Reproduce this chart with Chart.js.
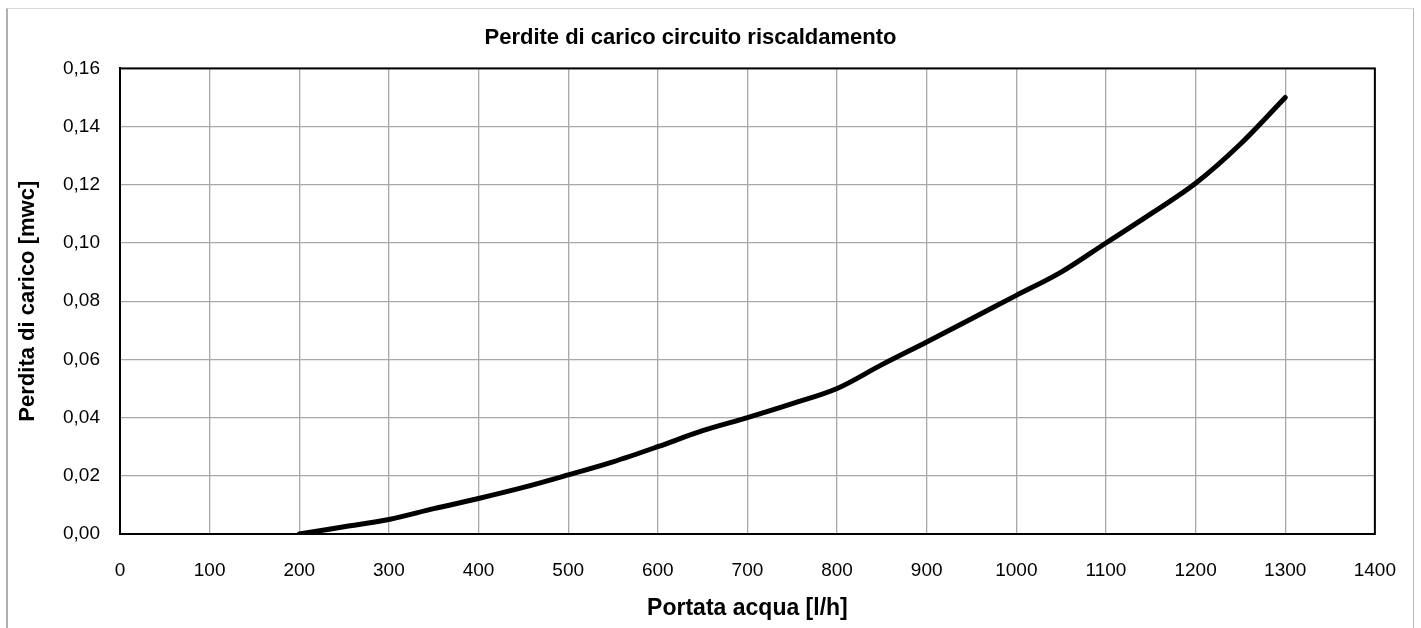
<!DOCTYPE html>
<html>
<head>
<meta charset="utf-8">
<script src="https://cdn.jsdelivr.net/npm/chart.js@4.4.1/dist/chart.umd.min.js"></script>
<style>
  html, body { margin: 0; padding: 0; background: #fff; }
  #wrap { position: relative; width: 1421px; height: 628px; }
  #frame { position: absolute; left: 6px; top: 8px; width: 1408px; height: 640px; border-left: 2px solid #b0b0b0; border-top: 1px solid #d8d8d8; border-right: 1px solid #b8b8b8; box-sizing: border-box; pointer-events: none; }
  canvas { position: absolute; left: 0; top: 0; }
</style>
</head>
<body>
<div id="wrap">
  <canvas id="c" width="1421" height="628"></canvas>
  <div id="frame"></div>
</div>
<script>
const chartTitle = "Perdite di carico circuito riscaldamento";
const xTitle = "Portata acqua [l/h]";
const yTitle = "Perdita di carico [mwc]";
const flowRates = [200, 250, 300, 350, 400, 450, 500, 550, 600, 650, 700, 750, 800, 850, 900, 950, 1000, 1050, 1100, 1150, 1200, 1250, 1300];
const headLoss = [0, 0.0025, 0.005, 0.0087, 0.0122, 0.016, 0.0203, 0.0248, 0.030, 0.0355, 0.040, 0.0448, 0.050, 0.0582, 0.066, 0.074, 0.082, 0.090, 0.100, 0.110, 0.1205, 0.134, 0.150];
const xTicks = [0, 100, 200, 300, 400, 500, 600, 700, 800, 900, 1000, 1100, 1200, 1300, 1400];
const yTicks = [0, 0.02, 0.04, 0.06, 0.08, 0.10, 0.12, 0.14, 0.16];

const points = flowRates.map((x, i) => ({ x: x, y: headLoss[i] }));

const frameBox = {
  id: 'frameBox',
  afterDatasetsDraw(chart) {
    const a = chart.chartArea, ctx = chart.ctx;
    ctx.save();
    ctx.strokeStyle = '#000';
    ctx.lineWidth = 2;
    ctx.strokeRect(a.left, a.top, a.right - a.left, a.bottom - a.top);
    ctx.restore();
  }
};

const font = "'Liberation Sans', Arial, sans-serif";

new Chart(document.getElementById('c'), {
  type: 'line',
  data: {
    datasets: [{
      data: points,
      borderColor: '#000',
      borderWidth: 5,
      borderCapStyle: 'round',
      pointRadius: 0,
      tension: 0.4,
      cubicInterpolationMode: 'monotone',
      fill: false
    }]
  },
  options: {
    responsive: false,
    animation: false,
    layout: { padding: { left: 0, right: 40, top: 0, bottom: 0 } },
    plugins: {
      legend: { display: false },
      tooltip: { enabled: false },
      title: {
        display: true,
        text: chartTitle,
        color: '#000',
        font: { family: font, size: 22, weight: 'bold' },
        padding: { top: 25, bottom: 17 }
      }
    },
    scales: {
      x: {
        type: 'linear',
        min: 0, max: 1400,
        afterBuildTicks: s => { s.ticks = xTicks.map(v => ({ value: v })); },
        afterFit: s => { s.height = 94; },
        ticks: { color: '#000', font: { family: font, size: 19 }, padding: 25,
          callback: v => String(v) },
        grid: { color: '#a8a8a8', lineWidth: 1.3, drawTicks: false },
        border: { color: '#000', width: 2 },
        title: { display: true, text: xTitle, color: '#000', font: { family: font, size: 23, weight: 'bold' }, padding: { top: 0, bottom: 6 } }
      },
      y: {
        type: 'linear',
        min: 0, max: 0.16,
        afterBuildTicks: s => { s.ticks = yTicks.map(v => ({ value: v })); },
        afterFit: s => { s.width = 120; },
        ticks: { color: '#000', font: { family: font, size: 19 }, padding: 20,
          callback: v => v.toFixed(2).replace('.', ',') },
        grid: { color: '#a8a8a8', lineWidth: 1.3, drawTicks: false },
        border: { color: '#000', width: 2 },
        title: { display: true, text: yTitle, color: '#000', font: { family: font, size: 22, weight: 'bold' }, padding: { top: 15, bottom: 0 } }
      }
    }
  },
  plugins: [frameBox]
});
</script>
</body>
</html>
